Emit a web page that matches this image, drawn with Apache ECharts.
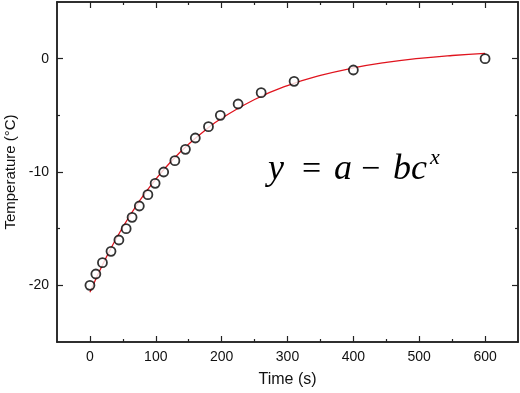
<!DOCTYPE html>
<html>
<head>
<meta charset="utf-8">
<script src="https://cdn.jsdelivr.net/npm/echarts@6/dist/echarts.min.js"></script>
<style>html,body{margin:0;padding:0;background:#fff}#c{width:520px;height:393px}</style>
</head>
<body>
<div id="c"></div>
<script>
// Measured data points (time in s, temperature in °C)
var timeData = [0, 9, 19, 32, 44, 55, 64, 75, 88, 99, 112, 129, 145, 160, 180, 198, 225, 260, 310, 400, 600];
var tempData = [-20, -19, -18, -17, -16, -15, -14, -13, -12, -11, -10, -9, -8, -7, -6, -5, -4, -3, -2, -1, 0];
// Fitted curve, values
var fitTime = [0, 25, 50, 75, 100, 125, 150, 175, 200, 250, 300, 350, 400, 450, 500, 550, 600];
var fitTemp = [-20.6, -17.5, -14.85, -12.58, -10.63, -8.96, -7.54, -6.31, -5.26, -3.6, -2.37, -1.48, -0.82, -0.33, 0.02, 0.28, 0.47];
var xMajorTicks = [0, 100, 200, 300, 400, 500, 600];
var xMinorTicks = [50, 150, 250, 350, 450, 550];
var yMajorTicks = [-20, -10, 0];
var yMinorTicks = [-15, -5];

var axisColor = '#222';
var font = 'Liberation Sans, Arial, sans-serif';

function xAxisDef(pos, ticks, len, labels, name) {
  return {
    type: 'value', position: pos, min: -50, max: 650,
    axisLine: {show: true, onZero: false, lineStyle: {color: axisColor, width: 1.5}},
    axisTick: {show: true, inside: true, length: len, customValues: ticks, lineStyle: {color: axisColor, width: 1.2}},
    axisLabel: {show: labels, customValues: ticks, color: '#111', fontSize: 14, fontFamily: font, margin: 8},
    splitLine: {show: false},
    name: name || '', nameLocation: 'middle', nameGap: 30,
    nameTextStyle: {fontSize: 16, color: '#111', fontFamily: font}
  };
}
function yAxisDef(pos, ticks, len, labels, name) {
  return {
    type: 'value', position: pos, min: -25, max: 5,
    axisLine: {show: true, onZero: false, lineStyle: {color: axisColor, width: 1.5}},
    axisTick: {show: true, inside: true, length: len, customValues: ticks, lineStyle: {color: axisColor, width: 1.2}},
    axisLabel: {show: labels, customValues: ticks, color: '#111', fontSize: 14, fontFamily: font, margin: 8},
    splitLine: {show: false},
    name: name || '', nameLocation: 'middle', nameGap: 33,
    nameTextStyle: {fontSize: 15, color: '#111', fontFamily: font}
  };
}

function mathText(str, x, size, italic) {
  return {
    type: 'text', x: x, y: italic === 'sup' ? 158 : 170,
    style: {
      text: str,
      fontFamily: 'Liberation Serif',
      fontStyle: italic ? 'italic' : 'normal',
      fontSize: size,
      fill: '#000',
      verticalAlign: 'middle',
      align: 'left'
    }
  };
}

var chart = echarts.init(document.getElementById('c'), null, {renderer: 'canvas'});
chart.setOption({
  animation: false,
  backgroundColor: '#fff',
  grid: {left: 57, right: 2, top: 2, bottom: 51, outerBoundsMode: 'none', containLabel: false},
  xAxis: [
    xAxisDef('bottom', xMajorTicks, 6, true, 'Time (s)'),
    xAxisDef('bottom', xMinorTicks, 3, false),
    xAxisDef('top', xMajorTicks, 6, false),
    xAxisDef('top', xMinorTicks, 3, false)
  ],
  yAxis: [
    yAxisDef('left', yMajorTicks, 6, true, 'Temperature (°C)'),
    yAxisDef('left', yMinorTicks, 3, false),
    yAxisDef('right', yMajorTicks, 6, false),
    yAxisDef('right', yMinorTicks, 3, false)
  ],
  series: [
    {
      type: 'line', xAxisIndex: 0, yAxisIndex: 0, smooth: true, showSymbol: false,
      data: fitTime.map(function (t, i) { return [t, fitTemp[i]]; }),
      lineStyle: {color: '#e0141e', width: 1.3}, z: 2
    },
    {
      type: 'scatter', xAxisIndex: 0, yAxisIndex: 0, symbol: 'circle', symbolSize: 9,
      data: timeData.map(function (t, i) { return [t, tempData[i]]; }),
      itemStyle: {color: '#fff', borderColor: '#000', borderWidth: 1.8}, z: 3
    }
  ],
  graphic: [
    mathText('y', 268, 36, true),
    mathText('=', 302, 34, false),
    mathText('a', 334, 36, true),
    mathText('\u2212', 361, 34, false),
    mathText('bc', 393, 36, true),
    mathText('x', 430, 22, 'sup')
  ]
});
</script>
</body>
</html>
